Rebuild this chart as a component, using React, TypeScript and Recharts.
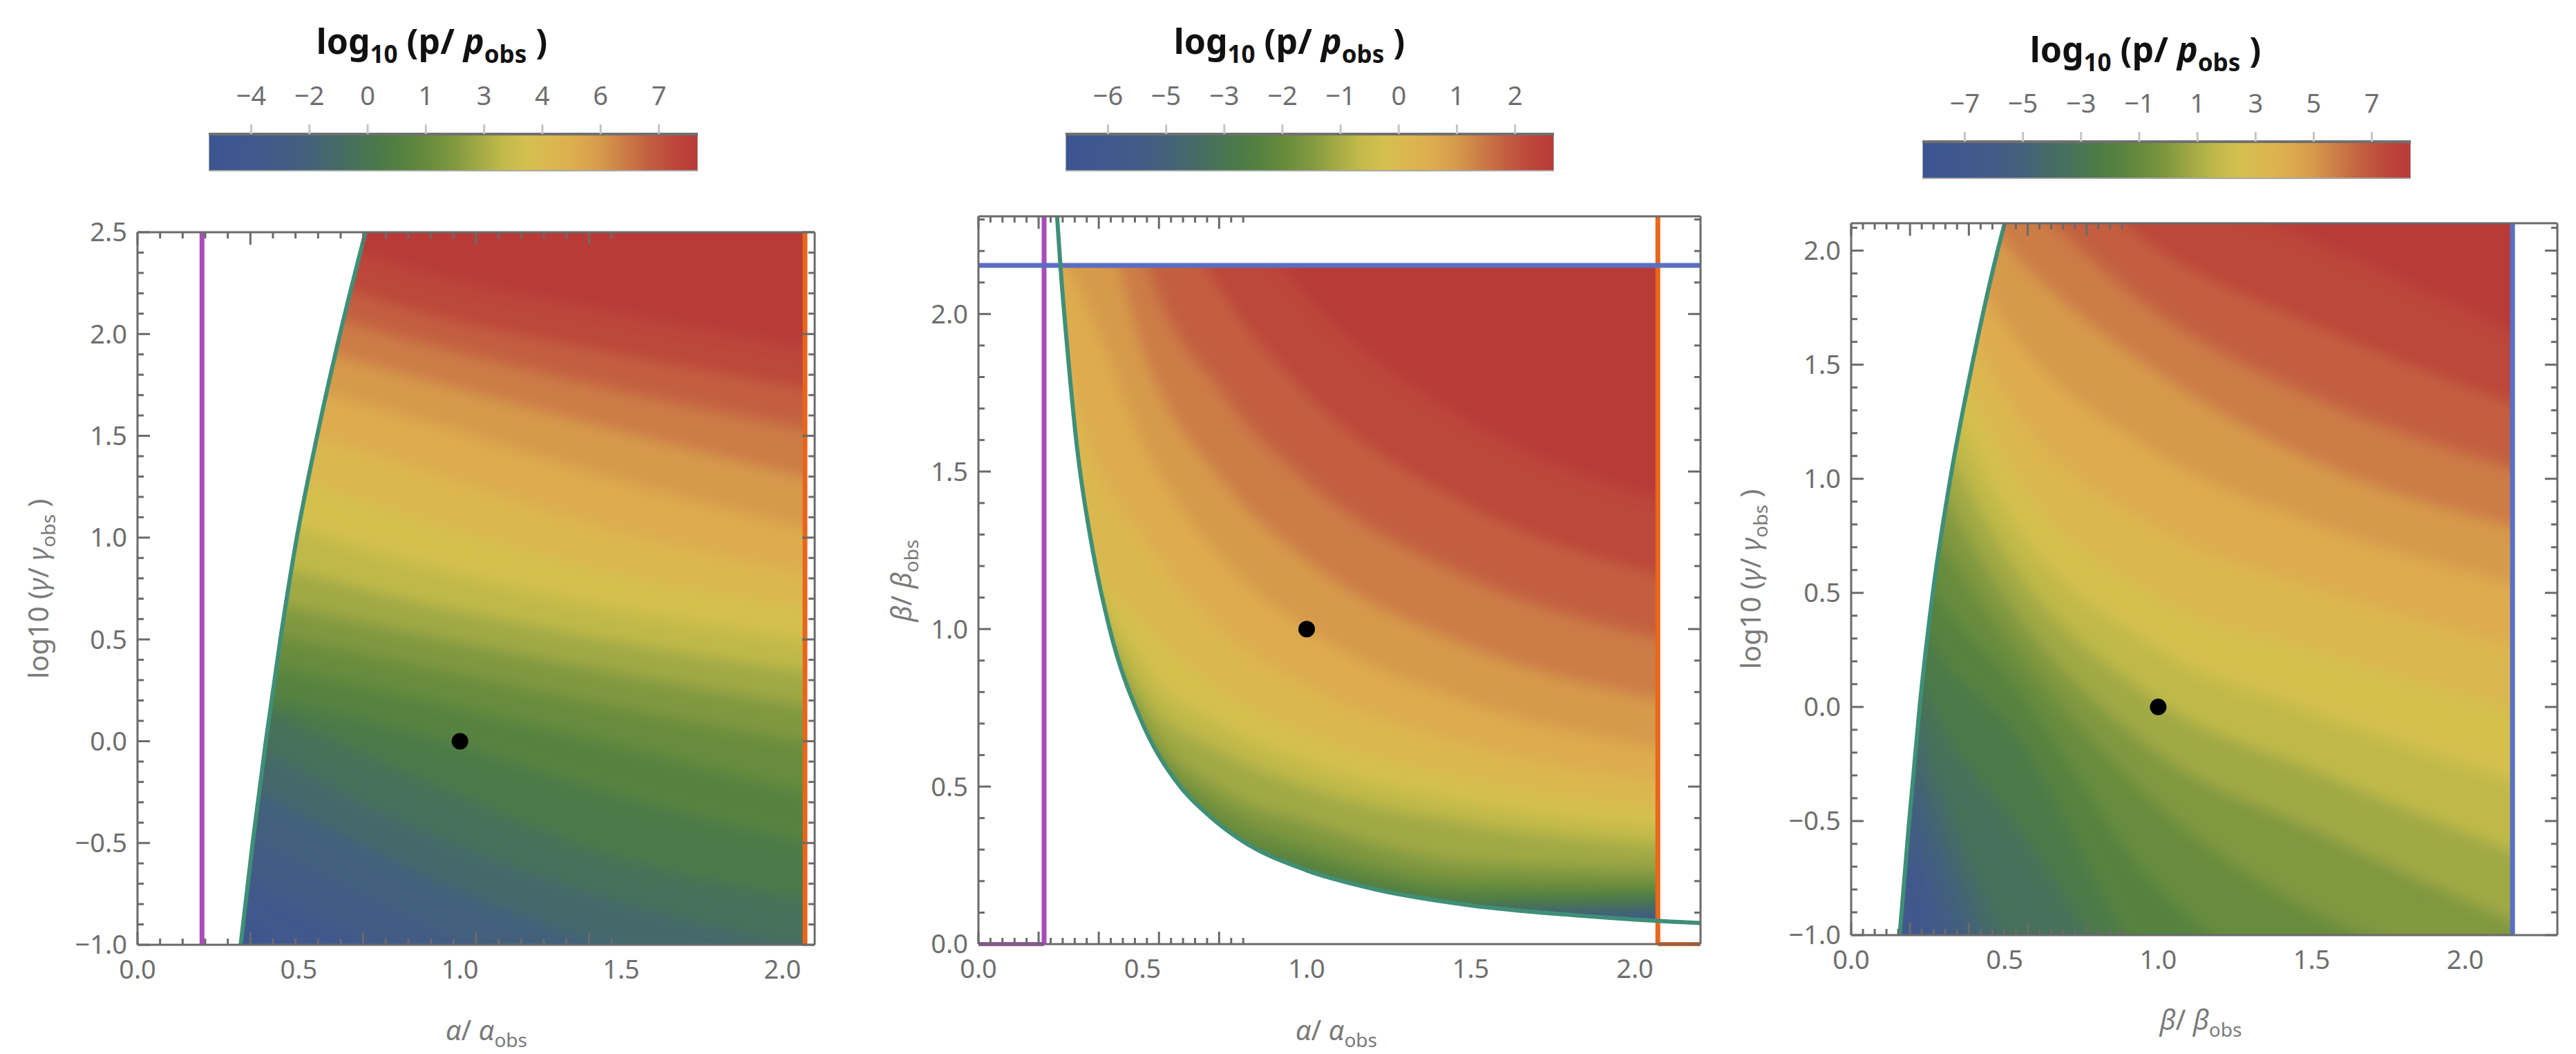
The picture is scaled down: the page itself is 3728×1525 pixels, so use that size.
import React from "react";
import {
  Area,
  ComposedChart,
  Line,
  ReferenceArea,
  ReferenceLine,
  Scatter,
  XAxis,
  YAxis,
} from "recharts";

const FONT = "'Noto Sans', 'DejaVu Sans', sans-serif";
const FRAME = "#6a6a6a";
const TICK_FILL = "#6e6e6e";
const TITLE_FILL = "#7a7a7a";
const TEAL = "#3f8f78";
const PURPLE = "#a94cba";
const ORANGE = "#e8661c";
const BLUE = "#5a6ec4";

// colour scale of log10(p/pobs), blue (low) -> green -> yellow -> red (high)
const palette = [
  "#3c5592", "#3e5790", "#40598c", "#425b86", "#43607c", "#45696a", "#47715a",
  "#4b7a48", "#568240", "#688c3c", "#80983f", "#a0a944", "#c0b94a", "#d4c04e",
  "#dbb750", "#ddac4f", "#d69a4c", "#cc7c46", "#c35f41", "#bc473b", "#b83a38",
];

// colour bars
const cbTickPos = [0.73, 1.73, 2.73, 3.73, 4.73, 5.73, 6.73, 7.73];
const cbSpan = 8.4;
const cbLabels1 = ["−4", "−2", "0", "1", "3", "4", "6", "7"];
const cbLabels2 = ["−6", "−5", "−3", "−2", "−1", "0", "1", "2"];
const cbLabels3 = ["−7", "−5", "−3", "−1", "1", "3", "5", "7"];

// panel 1: alpha/alpha_obs vs log10(gamma/gamma_obs)
const p1MajorX = [0, 0.5, 1, 1.5, 2];
const p1MajorY = [-1, -0.5, 0, 0.5, 1, 1.5, 2, 2.5];
const p1ColX = [0.25, 0.9, 1.5, 2.12];
// contour k = lower edge of colour band k, read at each column of p1ColX
const p1Contours = [
  [-1.075, -1.65, -2.025, -2.275],
  [-0.825, -1.4, -1.775, -2.025],
  [-0.604, -1.15, -1.525, -1.775],
  [-0.375, -0.9, -1.275, -1.525],
  [-0.125, -0.667, -1.025, -1.275],
  [0.089, -0.45, -0.788, -1.025],
  [0.266, -0.2, -0.575, -0.788],
  [0.266, 0.018, -0.275, -0.521],
  [0.422, 0.196, -0.025, -0.275],
  [0.578, 0.359, 0.161, -0.025],
  [0.734, 0.516, 0.328, 0.161],
  [0.938, 0.672, 0.484, 0.328],
  [1.175, 0.854, 0.641, 0.484],
  [1.425, 1.075, 0.813, 0.641],
  [1.646, 1.325, 1.025, 0.813],
  [1.854, 1.563, 1.275, 1.025],
  [2.063, 1.771, 1.521, 1.275],
  [2.25, 1.95, 1.72, 1.52],
  [2.45, 2.1, 1.9, 1.72],
  [2.65, 2.3, 2.1, 1.92],
];
const p1EdgeX = [0.32, 0.357, 0.398, 0.443, 0.494, 0.557, 0.628, 0.707];
const p1EdgeY = [-1, -0.5, 0, 0.5, 1, 1.5, 2, 2.5];
const p1CutX = [0.2, 2.07];
const p1Obs = [1, 0];

// panel 2: alpha/alpha_obs vs beta/beta_obs
const p2MajorX = [0, 0.5, 1, 1.5, 2];
const p2MajorY = [0, 0.5, 1, 1.5, 2];
const p2ColX = [0.2, 0.35, 0.5, 0.75, 1.0, 1.5, 2.12];
const p2Contours = [
  [1.1, 0.6, 0.3, 0.2, 0.1, 0.06, 0.07],
  [1.2, 0.65, 0.35, 0.22, 0.12, 0.07, 0.085],
  [1.3, 0.7, 0.4, 0.24, 0.14, 0.08, 0.095],
  [1.4, 0.75, 0.45, 0.26, 0.16, 0.095, 0.104],
  [1.5, 0.8, 0.5, 0.28, 0.18, 0.11, 0.113],
  [1.6, 0.85, 0.55, 0.3, 0.2, 0.12, 0.126],
  [1.7, 0.9, 0.6, 0.32, 0.215, 0.131, 0.144],
  [1.75, 0.95, 0.63, 0.34, 0.228, 0.148, 0.163],
  [1.8, 1.0, 0.66, 0.35, 0.269, 0.173, 0.18],
  [1.85, 1.05, 0.675, 0.416, 0.315, 0.205, 0.2],
  [1.9, 1.1, 0.725, 0.481, 0.386, 0.26, 0.24],
  [1.95, 1.15, 0.792, 0.604, 0.497, 0.379, 0.306],
  [2.0, 1.2, 0.888, 0.687, 0.572, 0.443, 0.361],
  [2.05, 1.22, 1.025, 0.797, 0.667, 0.519, 0.425],
  [2.08, 1.544, 1.29, 0.99, 0.82, 0.63, 0.51],
  [2.31, 1.981, 1.59, 1.212, 1.0, 0.763, 0.615],
  [2.7, 2.45, 1.89, 1.463, 1.219, 0.943, 0.769],
  [3.1, 2.95, 2.213, 1.74, 1.47, 1.16, 0.96],
  [3.5, 3.4, 2.59, 2.06, 1.748, 1.39, 1.16],
  [3.9, 3.9, 2.97, 2.397, 2.06, 1.657, 1.4],
];
const p2EdgeX = [0.239, 0.25, 0.27, 0.3, 0.35, 0.4, 0.5, 0.6, 0.7, 0.8, 1.0, 1.2, 1.5, 1.8, 2.0, 2.2];
const p2EdgeY = [2.32, 2.15, 1.9, 1.58, 1.24, 1.0, 0.7, 0.52, 0.41, 0.33, 0.234, 0.176, 0.123, 0.093, 0.078, 0.067];
const p2CutX = [0.2, 2.07];
const p2CutY = 2.154;
const p2Obs = [1, 1];

// panel 3: beta/beta_obs vs log10(gamma/gamma_obs)
const p3MajorX = [0, 0.5, 1, 1.5, 2];
const p3MajorY = [-1, -0.5, 0, 0.5, 1, 1.5, 2];
const p3ColX = [0.1, 0.2, 0.3, 0.5, 1.0, 1.5, 2.2];
const p3Contours = [
  [-1.225, -1.38, -1.6, -1.9, -2.6, -3.0, -3.2],
  [-0.975, -1.02, -1.35, -1.7, -2.4, -2.8, -3.0],
  [-0.725, -0.68, -1.1, -1.55, -2.2, -2.6, -2.8],
  [-0.475, -0.49, -0.85, -1.4, -2.0, -2.4, -2.6],
  [-0.225, -0.296, -0.62, -1.25, -1.8, -2.2, -2.4],
  [0.025, -0.075, -0.4, -1.02, -1.6, -2.0, -2.2],
  [0.275, 0.175, -0.1, -0.45, -1.4, -1.8, -2.0],
  [0.525, 0.425, 0.2, -0.06, -1.2, -1.5, -1.8],
  [0.775, 0.675, 0.45, 0.15, -0.79, -1.25, -1.5],
  [1.025, 0.925, 0.705, 0.317, -0.432, -0.893, -1.2],
  [1.275, 1.175, 0.932, 0.483, -0.205, -0.536, -0.969],
  [1.525, 1.425, 1.159, 0.673, 0.023, -0.275, -0.656],
  [1.775, 1.675, 1.386, 0.865, 0.25, -0.025, -0.344],
  [2.025, 1.925, 1.625, 1.083, 0.477, 0.25, -0.031],
  [2.275, 2.175, 1.875, 1.361, 0.781, 0.528, 0.25],
  [2.525, 2.425, 2.125, 1.679, 1.107, 0.806, 0.525],
  [2.775, 2.675, 2.375, 2.033, 1.464, 1.083, 0.775],
  [3.025, 2.925, 2.625, 2.333, 1.725, 1.361, 1.028],
  [3.275, 3.175, 2.875, 2.6, 2.006, 1.679, 1.306],
  [3.525, 3.425, 3.125, 2.867, 2.333, 2.05, 1.613],
];
const p3EdgeX = [0.158, 0.189, 0.223, 0.266, 0.323, 0.394, 0.477, 0.5];
const p3EdgeY = [-1, -0.5, 0, 0.5, 1, 1.5, 2, 2.12];
const p3CutX = [2.154];
const p3Obs = [1, 0];

const fmt = (v: number) => v.toFixed(1).replace("-", "−");

const minorTicks = (lo: number, hi: number, majors: number[]) => {
  const out: number[] = [];
  for (let i = Math.ceil(lo * 10 - 1e-6); i <= Math.floor(hi * 10 + 1e-6); i++) {
    const v = i / 10;
    if (!majors.some((m) => Math.abs(m - v) < 1e-9)) out.push(v);
  }
  return out;
};

// inward frame ticks, long for majors and short for minors
const frameTick = (side: string, majors: number[]) => (p: any) => {
  const big = majors.some((m) => Math.abs(m - p.payload.value) < 1e-9);
  const len = big ? 18 : 9;
  let x2 = p.x;
  let y2 = p.y;
  if (side === "b") y2 = p.y - len;
  else if (side === "t") y2 = p.y + len;
  else if (side === "l") x2 = p.x + len;
  else x2 = p.x - len;
  return <line x1={p.x} y1={p.y} x2={x2} y2={y2} stroke={FRAME} strokeWidth={3} />;
};

const dotShape = (p: any) => <circle cx={p.cx} cy={p.cy} r={12} fill="#000" />;

const noAnim = { isAnimationActive: false, dot: false, activeDot: false } as any;

function ContourPanel(props: any) {
  const {
    left, top, width, height, xDomain, yDomain, bandBottom, bandTop, majorX, majorY,
    colX, contours, edgeX, edgeY, maskBelow, rightMask, cutX, cutColors, hLine, segs, obs,
  } = props;
  const ML = 170;
  const MT = 30;
  const MR = 36;
  const MB = 170;
  const cw = width + ML + MR;
  const ch = height + MT + MB;

  const rows = colX.map((x: number, i: number) => {
    const r: any = { x, b0: [bandBottom, bandTop] };
    contours.forEach((c: number[], k: number) => {
      r[`b${k + 1}`] = [c[i], bandTop];
    });
    return r;
  });
  const edge = edgeX.map((x: number, i: number) => ({ x, y: edgeY[i] }));
  const mask = [
    { x: xDomain[0], m: [yDomain[0], yDomain[1]] },
    ...edge.map((p: any) => ({ x: p.x, m: maskBelow ? [yDomain[0], p.y] : [p.y, yDomain[1]] })),
  ];
  const topMask = hLine != null
    ? [{ x: xDomain[0], m: [hLine, yDomain[1]] }, { x: xDomain[1], m: [hLine, yDomain[1]] }]
    : null;
  const sideMask = [
    { x: rightMask, m: [yDomain[0], yDomain[1]] },
    { x: xDomain[1], m: [yDomain[0], yDomain[1]] },
  ];

  const allX = [...majorX, ...minorTicks(xDomain[0], xDomain[1], majorX)].sort((a, b) => a - b);
  const allY = [...majorY, ...minorTicks(yDomain[0], yDomain[1], majorY)].sort((a, b) => a - b);
  const tickStyle = { fill: TICK_FILL, fontSize: 38, fontFamily: FONT };
  const frameLine = { stroke: FRAME, strokeWidth: 3 };

  return (
    <div style={{ position: "absolute", left: left - ML, top: top - MT, width: cw, height: ch }}>
      {/* coloured field, masks, constraint lines and the observed point */}
      <ComposedChart width={cw} height={ch} data={rows} margin={{ top: MT, right: MR, bottom: MB, left: ML }}>
        <XAxis hide type="number" dataKey="x" domain={xDomain} allowDataOverflow />
        <YAxis hide type="number" domain={yDomain} allowDataOverflow />
        {palette.map((c, k) => (
          <Area
            key={`band${k}`}
            className="soft-band"
            dataKey={`b${k}`}
            type="monotone"
            fill={c}
            fillOpacity={1}
            stroke="none"
            filter="url(#bandSoft)"
            {...noAnim}
          />
        ))}
        <Area data={mask} dataKey="m" type="monotone" fill="#ffffff" fillOpacity={1} stroke="none" {...noAnim} />
        <Area data={sideMask} dataKey="m" type="linear" fill="#ffffff" fillOpacity={1} stroke="none" {...noAnim} />
        {topMask && (
          <Area data={topMask} dataKey="m" type="linear" fill="#ffffff" fillOpacity={1} stroke="none" {...noAnim} />
        )}
        {cutX.map((x: number, i: number) => (
          <ReferenceLine key={`cut${i}`} x={x} stroke={cutColors[i]} strokeWidth={7} />
        ))}
        {hLine != null && <ReferenceLine y={hLine} stroke={BLUE} strokeWidth={7} />}
        {(segs || []).map((s: any, i: number) => (
          <ReferenceLine key={`seg${i}`} segment={s.pts} stroke={s.color} strokeWidth={6} />
        ))}
        <Line data={edge} dataKey="y" type="monotone" stroke={TEAL} strokeWidth={6} {...noAnim} />
        <Scatter data={[{ x: obs[0], y: obs[1] }]} dataKey="y" shape={dotShape} isAnimationActive={false} />
      </ComposedChart>

      {/* frame with tick labels and inward ticks, drawn on top of the field */}
      <div style={{ position: "absolute", left: 0, top: 0 }}>
        <ComposedChart width={cw} height={ch} data={rows} margin={{ top: MT, right: MR, bottom: MB - 60, left: ML - 110 }}>
          <XAxis
            type="number"
            dataKey="x"
            domain={xDomain}
            allowDataOverflow
            ticks={majorX}
            interval={0}
            tickFormatter={fmt}
            tickLine={false}
            tickSize={0}
            tickMargin={22}
            height={60}
            axisLine={frameLine}
            tick={tickStyle}
          />
          <YAxis
            type="number"
            domain={yDomain}
            allowDataOverflow
            ticks={majorY}
            interval={0}
            tickFormatter={fmt}
            tickLine={false}
            tickSize={0}
            tickMargin={15}
            width={110}
            axisLine={frameLine}
            tick={tickStyle}
          />
          <XAxis xAxisId="fb" orientation="bottom" mirror type="number" domain={xDomain} allowDataOverflow
            ticks={allX} interval={0} tickSize={0} tickMargin={0} height={1} axisLine={false} tickLine={false}
            tick={frameTick("b", majorX)} />
          <XAxis xAxisId="ft" orientation="top" mirror type="number" domain={xDomain} allowDataOverflow
            ticks={allX} interval={0} tickSize={0} tickMargin={0} height={1} axisLine={frameLine} tickLine={false}
            tick={frameTick("t", majorX)} />
          <YAxis yAxisId="fl" orientation="left" mirror type="number" domain={yDomain} allowDataOverflow
            ticks={allY} interval={0} tickSize={0} tickMargin={0} width={1} axisLine={false} tickLine={false}
            tick={frameTick("l", majorY)} />
          <YAxis yAxisId="fr" orientation="right" mirror type="number" domain={yDomain} allowDataOverflow
            ticks={allY} interval={0} tickSize={0} tickMargin={0} width={1} axisLine={frameLine} tickLine={false}
            tick={frameTick("r", majorY)} />
        </ComposedChart>
      </div>
    </div>
  );
}

function ColourBar({ left, barTop, width, labels, id }: any) {
  const barH = 54;
  const cbRows = [{ x: 0 }, { x: cbSpan }];
  return (
    <div style={{ position: "absolute", left, top: 0 }}>
      <ComposedChart
        width={width}
        height={barTop + barH + 6}
        data={cbRows}
        margin={{ top: barTop, right: 0, bottom: 6, left: 0 }}
      >
        <defs>
          <linearGradient id={id} x1="0" y1="0" x2="1" y2="0">
            {palette.map((c, i) => (
              <stop key={i} offset={i / (palette.length - 1)} stopColor={c} />
            ))}
          </linearGradient>
        </defs>
        <XAxis
          type="number"
          dataKey="x"
          orientation="top"
          domain={[0, cbSpan]}
          allowDataOverflow
          ticks={cbTickPos}
          interval={0}
          tickFormatter={(v: number, i: number) => labels[i]}
          height={1}
          tickSize={14}
          tickMargin={28}
          tickLine={{ stroke: "#c4c4c4", strokeWidth: 3 }}
          axisLine={{ stroke: "#707070", strokeWidth: 4 }}
          tick={{ fill: TICK_FILL, fontSize: 38, fontFamily: FONT }}
        />
        <YAxis hide type="number" domain={[0, 1]} allowDataOverflow />
        <ReferenceArea
          x1={0}
          x2={cbSpan}
          y1={0}
          y2={1}
          fill={`url(#${id})`}
          fillOpacity={1}
          stroke="#a8a8a8"
          strokeWidth={2}
        />
      </ComposedChart>
    </div>
  );
}

const BarTitle = ({ cx, y }: { cx: number; y: number }) => (
  <text x={cx} y={y} textAnchor="middle" fontFamily={FONT} fontWeight="bold" fontSize={50} fill="#111">
    log
    <tspan fontSize={35} dy={13}>10</tspan>
    <tspan dy={-13}>{" (p/ "}</tspan>
    <tspan fontStyle="italic">p</tspan>
    <tspan fontSize={35} dy={13}>obs</tspan>
    <tspan dy={-13}>{" )"}</tspan>
  </text>
);

const RatioTitle = ({ x, y, sym, rotate }: { x: number; y: number; sym: string; rotate?: boolean }) => (
  <text
    x={x}
    y={y}
    textAnchor="middle"
    fontFamily={FONT}
    fontSize={40}
    fill={TITLE_FILL}
    transform={rotate ? `rotate(-90 ${x} ${y})` : undefined}
  >
    <tspan fontStyle="italic">{sym}</tspan>
    {"/ "}
    <tspan fontStyle="italic">{sym}</tspan>
    <tspan fontSize={28} dy={10}>obs</tspan>
  </text>
);

const GammaTitle = ({ x, y }: { x: number; y: number }) => (
  <text x={x} y={y} textAnchor="middle" fontFamily={FONT} fontSize={40} fill={TITLE_FILL}
    transform={`rotate(-90 ${x} ${y})`}>
    {"log10 ("}
    <tspan fontStyle="italic">γ</tspan>
    {"/ "}
    <tspan fontStyle="italic">γ</tspan>
    <tspan fontSize={28} dy={10}>obs</tspan>
    <tspan dy={-10}>{" )"}</tspan>
  </text>
);

export default function App() {
  return (
    <div style={{ position: "absolute", left: 0, top: 0, width: 3728, height: 1525, background: "#fff" }}>
      <style>{".soft-band path { filter: url(#bandSoft); }"}</style>
      <svg width={0} height={0} style={{ position: "absolute" }}>
        <defs>
          <filter id="bandSoft" x="-10%" y="-10%" width="120%" height="120%">
            <feGaussianBlur stdDeviation="10" />
          </filter>
        </defs>
      </svg>

      <ColourBar left={302} barTop={193} width={708} labels={cbLabels1} id="cbg1" />
      <ColourBar left={1542} barTop={193} width={707} labels={cbLabels2} id="cbg2" />
      <ColourBar left={2782} barTop={204} width={707} labels={cbLabels3} id="cbg3" />

      <ContourPanel
        left={199} top={336} width={980} height={1031}
        xDomain={[0, 2.1]} yDomain={[-1, 2.5]} bandBottom={-1.6} bandTop={3.0}
        majorX={p1MajorX} majorY={p1MajorY}
        colX={p1ColX} contours={p1Contours}
        edgeX={p1EdgeX} edgeY={p1EdgeY} maskBelow={false} rightMask={p1CutX[1]}
        cutX={p1CutX} cutColors={[PURPLE, ORANGE]}
        obs={p1Obs}
      />
      <ContourPanel
        left={1416} top={313} width={1045} height={1053}
        xDomain={[0, 2.2]} yDomain={[0, 2.31]} bandBottom={-0.5} bandTop={2.6}
        majorX={p2MajorX} majorY={p2MajorY}
        colX={p2ColX} contours={p2Contours}
        edgeX={p2EdgeX} edgeY={p2EdgeY} maskBelow={true} rightMask={p2CutX[1]}
        cutX={p2CutX} cutColors={[PURPLE, ORANGE]} hLine={p2CutY}
        segs={[
          { pts: [{ x: 0, y: 0 }, { x: p2CutX[0], y: 0 }], color: PURPLE },
          { pts: [{ x: p2CutX[1], y: 0 }, { x: 2.2, y: 0 }], color: ORANGE },
        ]}
        obs={p2Obs}
      />
      <ContourPanel
        left={2679} top={323} width={1022} height={1030}
        xDomain={[0, 2.3]} yDomain={[-1, 2.12]} bandBottom={-1.6} bandTop={2.7}
        majorX={p3MajorX} majorY={p3MajorY}
        colX={p3ColX} contours={p3Contours}
        edgeX={p3EdgeX} edgeY={p3EdgeY} maskBelow={false} rightMask={p3CutX[0]}
        cutX={p3CutX} cutColors={[BLUE]}
        obs={p3Obs}
      />

      <svg width={3728} height={1525} style={{ position: "absolute", left: 0, top: 0, pointerEvents: "none" }}>
        <BarTitle cx={625} y={78} />
        <BarTitle cx={1866} y={78} />
        <BarTitle cx={3105} y={90} />
        <RatioTitle x={704} y={1505} sym="α" />
        <RatioTitle x={1934} y={1505} sym="α" />
        <RatioTitle x={3185} y={1490} sym="β" />
        <GammaTitle x={70} y={852} />
        <RatioTitle x={1319} y={840} sym="β" rotate />
        <GammaTitle x={2548} y={838} />
      </svg>
    </div>
  );
}
